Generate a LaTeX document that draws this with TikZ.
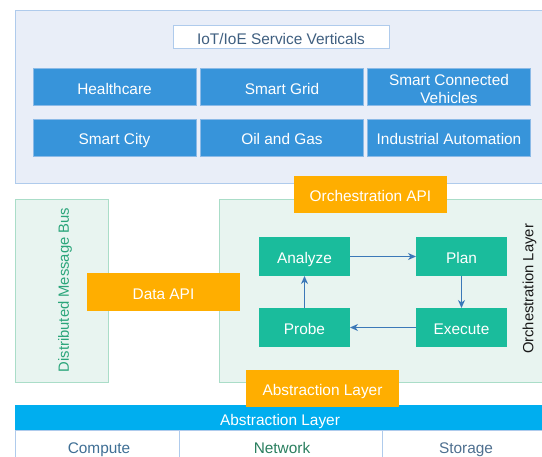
\documentclass[tikz,border=0pt]{standalone}
\usepackage{fontspec}
\setmainfont{Liberation Sans}
\usetikzlibrary{arrows.meta}

\definecolor{panelfill}{HTML}{E9EEF8}
\definecolor{panelline}{HTML}{AFCBEC}
\definecolor{servblue}{HTML}{3794DA}
\definecolor{apiorange}{HTML}{FFAE00}
\definecolor{loopgreen}{HTML}{1ABC9C}
\definecolor{greenfill}{HTML}{E8F4F0}
\definecolor{greenline}{HTML}{AADDC8}
\definecolor{busgreen}{HTML}{2AA57A}
\definecolor{barblue}{HTML}{00AEEF}
\definecolor{flowblue}{HTML}{3B78B8}
\definecolor{titletext}{HTML}{3F5F80}
\definecolor{computetext}{HTML}{3F6F95}
\definecolor{networktext}{HTML}{2A7F5F}
\definecolor{storagetext}{HTML}{4F7090}

\begin{document}
\begin{tikzpicture}[x=1pt,y=-1pt,
  every node/.style={inner sep=0pt, outer sep=0pt, text height=14.5pt, text depth=0pt,
    font=\fontsize{15.4}{18}\selectfont},
  panel/.style={draw=panelline, fill=panelfill, line width=1pt},
  greenpanel/.style={draw=greenline, fill=greenfill, line width=1pt},
  sidelabel/.style={rotate=90, font=\fontsize{14.8}{18}\selectfont},
  titlebox/.style={draw=panelline, fill=white, line width=1pt, text=titletext,
    minimum width=216pt, minimum height=23pt},
  service/.style={draw=panelline!70!servblue, fill=servblue, line width=0.6pt, text=white,
    minimum width=163pt, minimum height=37pt},
  apibox/.style={fill=apiorange, text=white, minimum width=153pt, minimum height=37pt},
  loopbox/.style={fill=loopgreen, text=white, minimum width=91pt, minimum height=39pt},
  cell/.style={draw=panelline, fill=white, line width=1pt, minimum height=32pt},
  flow/.style={draw=flowblue, line width=1pt, -{Stealth[length=8pt,width=7pt,inset=2.5pt]}}
]
\useasboundingbox (0,0) rectangle (542,457);
\clip (0,0) rectangle (542,457);

% service verticals panel
\node[panel, minimum width=530pt, minimum height=173pt] (verticals) at (280,97.5) {};
\node[titlebox] (title) at (281,37.5) {IoT/IoE Service Verticals};
\node[service] (health) at (114.5,87) {Healthcare};
\node[service] (grid) at (282,87) {Smart Grid};
\node[service] (vehicles) at (449,87) {};
\node[text=white, align=center, text height=, text depth=] (vehicleslabel) at (449,89)
  {Smart Connected\\Vehicles};
\node[service] (city) at (114.5,137.5) {Smart City};
\node[service] (oil) at (282,137.5) {Oil and Gas};
\node[service] (industry) at (449,137.5) {Industrial Automation};

% message bus and orchestration layer
\node[greenpanel, minimum width=93pt, minimum height=183pt] (bus) at (61.5,291.5) {};
\node[sidelabel, text=busgreen] (buslabel) at (61.5,290) {Distributed Message Bus};
\node[greenpanel, minimum width=326pt, minimum height=183pt] (orch) at (382,291.5) {};
\node[sidelabel, text=black!90] (orchlabel) at (526,289) {Orchestration Layer};

% control loop
\node[loopbox] (analyze) at (304.5,256.5) {Analyze};
\node[loopbox] (plan) at (461.5,256.5) {Plan};
\node[loopbox] (probe) at (304.5,327.5) {Probe};
\node[loopbox] (execute) at (461.5,327.5) {Execute};
\draw[flow] (analyze) -- (plan);
\draw[flow] (plan) -- (execute);
\draw[flow] (execute) -- (probe);
\draw[flow] (probe) -- (analyze);

% resource layer
\node[fill=barblue, text=white, minimum width=530pt, minimum height=26pt] (absbar) at (280,418) {Abstraction Layer};
\node[cell, minimum width=164pt] (compute) at (97,447) {};
\node[cell, minimum width=203pt] (network) at (280.5,447) {};
\node[cell, minimum width=163pt] (storage) at (463.5,447) {};
\node[text=computetext] (computelabel) at (99,446.5) {Compute};
\node[text=networktext] (networklabel) at (282,446.5) {Network};
\node[text=storagetext] (storagelabel) at (466,446.5) {Storage};

% APIs
\node[apibox] (orchapi) at (370.5,194.5) {Orchestration API};
\node[apibox, minimum height=38pt] (dataapi) at (163.5,292) {Data API};
\node[apibox] (absapi) at (322.5,388.5) {Abstraction Layer};
\end{tikzpicture}
\end{document}
